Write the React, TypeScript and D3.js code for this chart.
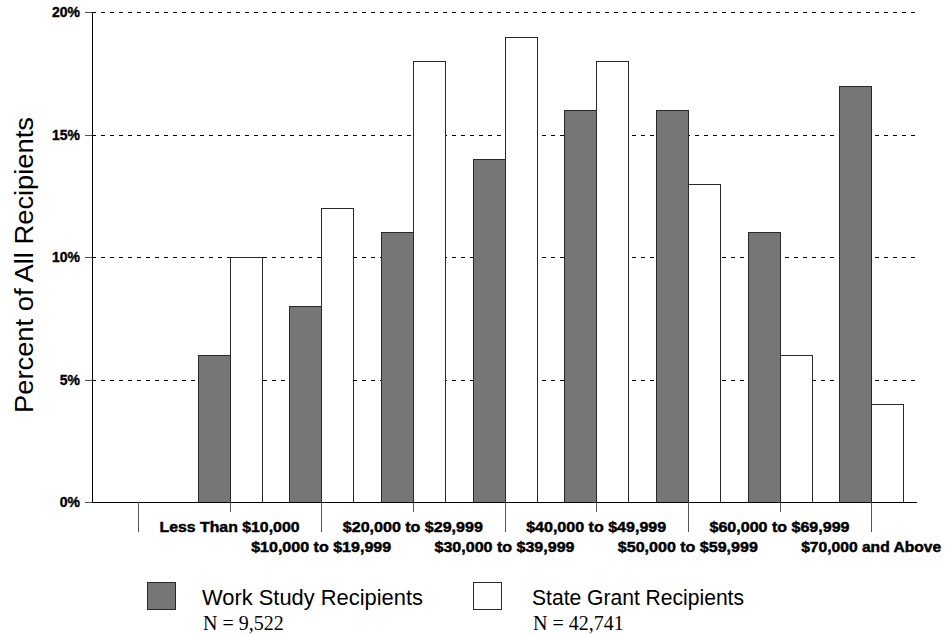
import React from "react";
import * as d3 from "d3";

const categories = [
  "",
  "Less Than $10,000",
  "$10,000 to $19,999",
  "$20,000 to $29,999",
  "$30,000 to $39,999",
  "$40,000 to $49,999",
  "$50,000 to $59,999",
  "$60,000 to $69,999",
  "$70,000 and Above",
];
const workStudy: (number | null)[] = [null, 6, 8, 11, 14, 16, 16, 11, 17];
const stateGrant: (number | null)[] = [null, 10, 12, 18, 19, 18, 13, 6, 4];
const yTicks = [0, 5, 10, 15, 20];
const seriesNames = ["Work Study Recipients", "State Grant Recipients"];
const seriesN = ["N = 9,522", "N = 42,741"];

const W = 946;
const H = 634;
const left = 92;
const right = 917;
const top = 12;
const bottom = 502;
const barW = 32;
const DARK = "#767676";
const SANS = "'Liberation Sans', Arial, sans-serif";
const SERIF = "'Liberation Serif', 'Times New Roman', serif";

export default function App() {
  const x = d3
    .scaleBand<string>()
    .domain(categories.map((_, i) => String(i)))
    .range([left, right]);
  const y = d3.scaleLinear().domain([0, 20]).range([bottom, top]);
  const cx = (i: number) => (x(String(i)) as number) + x.bandwidth() / 2;

  const legend = [
    { sx: 147, tx: 202, len: 221, fill: DARK },
    { sx: 473, tx: 532, len: 212, fill: "#fff" },
  ];

  return (
    <svg
      width={W}
      height={H}
      style={{ position: "absolute", left: 0, top: 0, background: "#fff" }}
    >
      {/* gridlines */}
      {yTicks
        .filter((t) => t > 0)
        .map((t) => (
          <line
            key={"g" + t}
            x1={left}
            x2={right}
            y1={Math.round(y(t)) + 0.5}
            y2={Math.round(y(t)) + 0.5}
            stroke="#000"
            strokeWidth={1}
            strokeDasharray="4,5"
          />
        ))}

      {/* bars */}
      {categories.map((c, i) => {
        const ws = workStudy[i];
        const sg = stateGrant[i];
        const c0 = Math.round(cx(i));
        return (
          <g key={"b" + i}>
            {ws != null && (
              <rect
                x={c0 - barW + 0.5}
                y={Math.round(y(ws)) + 0.5}
                width={barW}
                height={bottom - Math.round(y(ws))}
                fill={DARK}
                stroke="#2a2a2a"
                strokeWidth={1}
              />
            )}
            {sg != null && (
              <rect
                x={c0 + 0.5}
                y={Math.round(y(sg)) + 0.5}
                width={barW}
                height={bottom - Math.round(y(sg))}
                fill="#fff"
                stroke="#2a2a2a"
                strokeWidth={1}
              />
            )}
          </g>
        );
      })}

      {/* y axis */}
      <line x1={left + 0.5} x2={left + 0.5} y1={top} y2={bottom + 0.5} stroke="#000" />
      {yTicks.map((t) => (
        <g key={"yt" + t}>
          <line
            x1={left - 7}
            x2={left}
            y1={Math.round(y(t)) + 0.5}
            y2={Math.round(y(t)) + 0.5}
            stroke="#555"
          />
          <text
            x={80}
            y={y(t)}
            dy="0.36em"
            textAnchor="end"
            fontFamily={SANS}
            fontWeight="bold"
            fontSize={14}
            stroke="#000"
            strokeWidth={0.35}
          >
            {t + "%"}
          </text>
        </g>
      ))}
      <text
        transform={`translate(33,${(top + bottom) / 2 + 8}) rotate(-90)`}
        textAnchor="middle"
        fontFamily={SANS}
        fontSize={25}
        textLength={296}
        lengthAdjust="spacingAndGlyphs"
      >
        Percent of All Recipients
      </text>

      {/* x axis */}
      <line x1={left} x2={right} y1={bottom + 0.5} y2={bottom + 0.5} stroke="#000" />
      {categories.map((c, i) => {
        const c0 = Math.round(cx(i)) + 0.5;
        const long = i % 2 === 0;
        return (
          <g key={"xt" + i}>
            <line
              x1={c0}
              x2={c0}
              y1={bottom}
              y2={long ? 532 : 512}
              stroke="#555"
            />
            {c && (
              <text
                x={cx(i)}
                y={long ? 552 : 532}
                textAnchor="middle"
                fontFamily={SANS}
                fontWeight="bold"
                fontSize={15}
                stroke="#000"
                strokeWidth={0.45}
                textLength={140}
                lengthAdjust="spacingAndGlyphs"
              >
                {c}
              </text>
            )}
          </g>
        );
      })}

      {/* legend */}
      {seriesNames.map((s, k) => {
        const L = legend[k];
        return (
          <g key={"l" + k}>
            <rect
              x={L.sx + 0.5}
              y={582.5}
              width={28}
              height={27}
              fill={L.fill}
              stroke="#2a2a2a"
            />
            <text
              x={L.tx}
              y={605}
              fontFamily={SANS}
              fontSize={22.5}
              textLength={L.len}
              lengthAdjust="spacingAndGlyphs"
            >
              {s}
            </text>
            <text x={L.tx + 1} y={630} fontFamily={SERIF} fontSize={20}>
              {seriesN[k]}
            </text>
          </g>
        );
      })}
    </svg>
  );
}
